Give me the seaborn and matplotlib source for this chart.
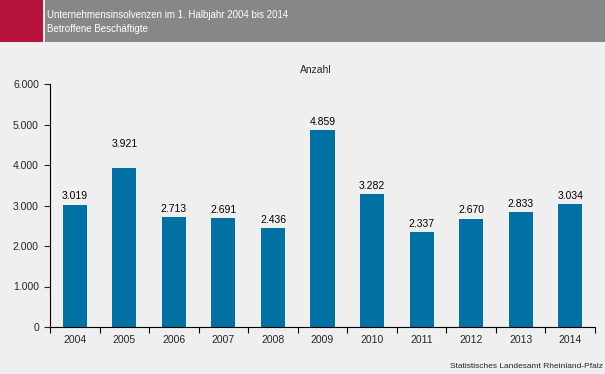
import seaborn as sns
import matplotlib.pyplot as plt
import pandas as pd
from matplotlib.patches import Rectangle
from matplotlib.ticker import FuncFormatter, MultipleLocator, FixedLocator

# data
years = ['2004', '2005', '2006', '2007', '2008', '2009', '2010', '2011', '2012', '2013', '2014']
betroffene = [3019, 3921, 2713, 2691, 2436, 4859, 3282, 2337, 2670, 2833, 3034]
# extra label lift in points (2005 label sits higher in the original)
label_lift = [0, 11, 0, 0, 0, 0, 0, 0, 0, 0, 0]

BG = '#eeefee'
BAR = '#0071a2'

def dotted(v):
    return f'{int(v):,}'.replace(',', '.')

sns.set_style('ticks')
plt.rcParams['font.family'] = ['Liberation Sans', 'DejaVu Sans']

df = pd.DataFrame({'Jahr': years, 'Anzahl': betroffene})

fig = plt.figure(figsize=(6.05, 3.74), dpi=100, facecolor=BG)
ax = fig.add_axes([50/605, 1 - 327/374, 545/605, 243/374])
ax.set_facecolor(BG)

sns.barplot(data=df, x='Jahr', y='Anzahl', color=BAR, width=0.485,
            saturation=1, linewidth=0, ax=ax)

for i, v in enumerate(betroffene):
    ax.annotate(dotted(v), (i, v), xytext=(0, 2.5 + label_lift[i]),
                textcoords='offset points', ha='center', va='bottom',
                fontsize=7.5, color='black')

ax.set_xlim(-0.5, len(years) - 0.5)
ax.set_ylim(0, 6000)
ax.yaxis.set_major_locator(MultipleLocator(1000))
ax.yaxis.set_major_formatter(FuncFormatter(lambda v, p: dotted(v)))
ax.xaxis.set_minor_locator(FixedLocator([i + 0.5 for i in range(-1, len(years))]))
ax.tick_params(axis='x', which='major', length=0, pad=6, labelsize=7.5)
ax.tick_params(axis='x', which='minor', length=4, width=0.8, color='black')
ax.tick_params(axis='y', length=4, width=0.8, labelsize=7.5, pad=4)
ax.set_xlabel('')
ax.set_ylabel('')
sns.despine(ax=ax)
for s in ('left', 'bottom'):
    ax.spines[s].set_linewidth(0.8)
    ax.spines[s].set_color('black')

# header band
fig.patches.append(Rectangle((0, 1 - 42/374), 43/605, 42/374, transform=fig.transFigure,
                             facecolor='#b5123e', edgecolor='none', zorder=0))
fig.patches.append(Rectangle((45/605, 1 - 42/374), 560/605, 42/374, transform=fig.transFigure,
                             facecolor='#878787', edgecolor='none', zorder=0))
fig.text(47/605, 1 - 15/374, 'Unternehmensinsolvenzen im 1. Halbjahr 2004 bis 2014',
         color='white', fontsize=7, va='center', ha='left')
fig.text(47/605, 1 - 29/374, 'Betroffene Beschäftigte',
         color='white', fontsize=7, va='center', ha='left')

fig.text(316/605, 1 - 70/374, 'Anzahl', fontsize=7.5, ha='center', va='center')
fig.text(603/605, 1 - 366/374, 'Statistisches Landesamt Rheinland-Pfalz',
         fontsize=6, ha='right', va='center')

plt.savefig('out.png', dpi=100, facecolor=BG)
